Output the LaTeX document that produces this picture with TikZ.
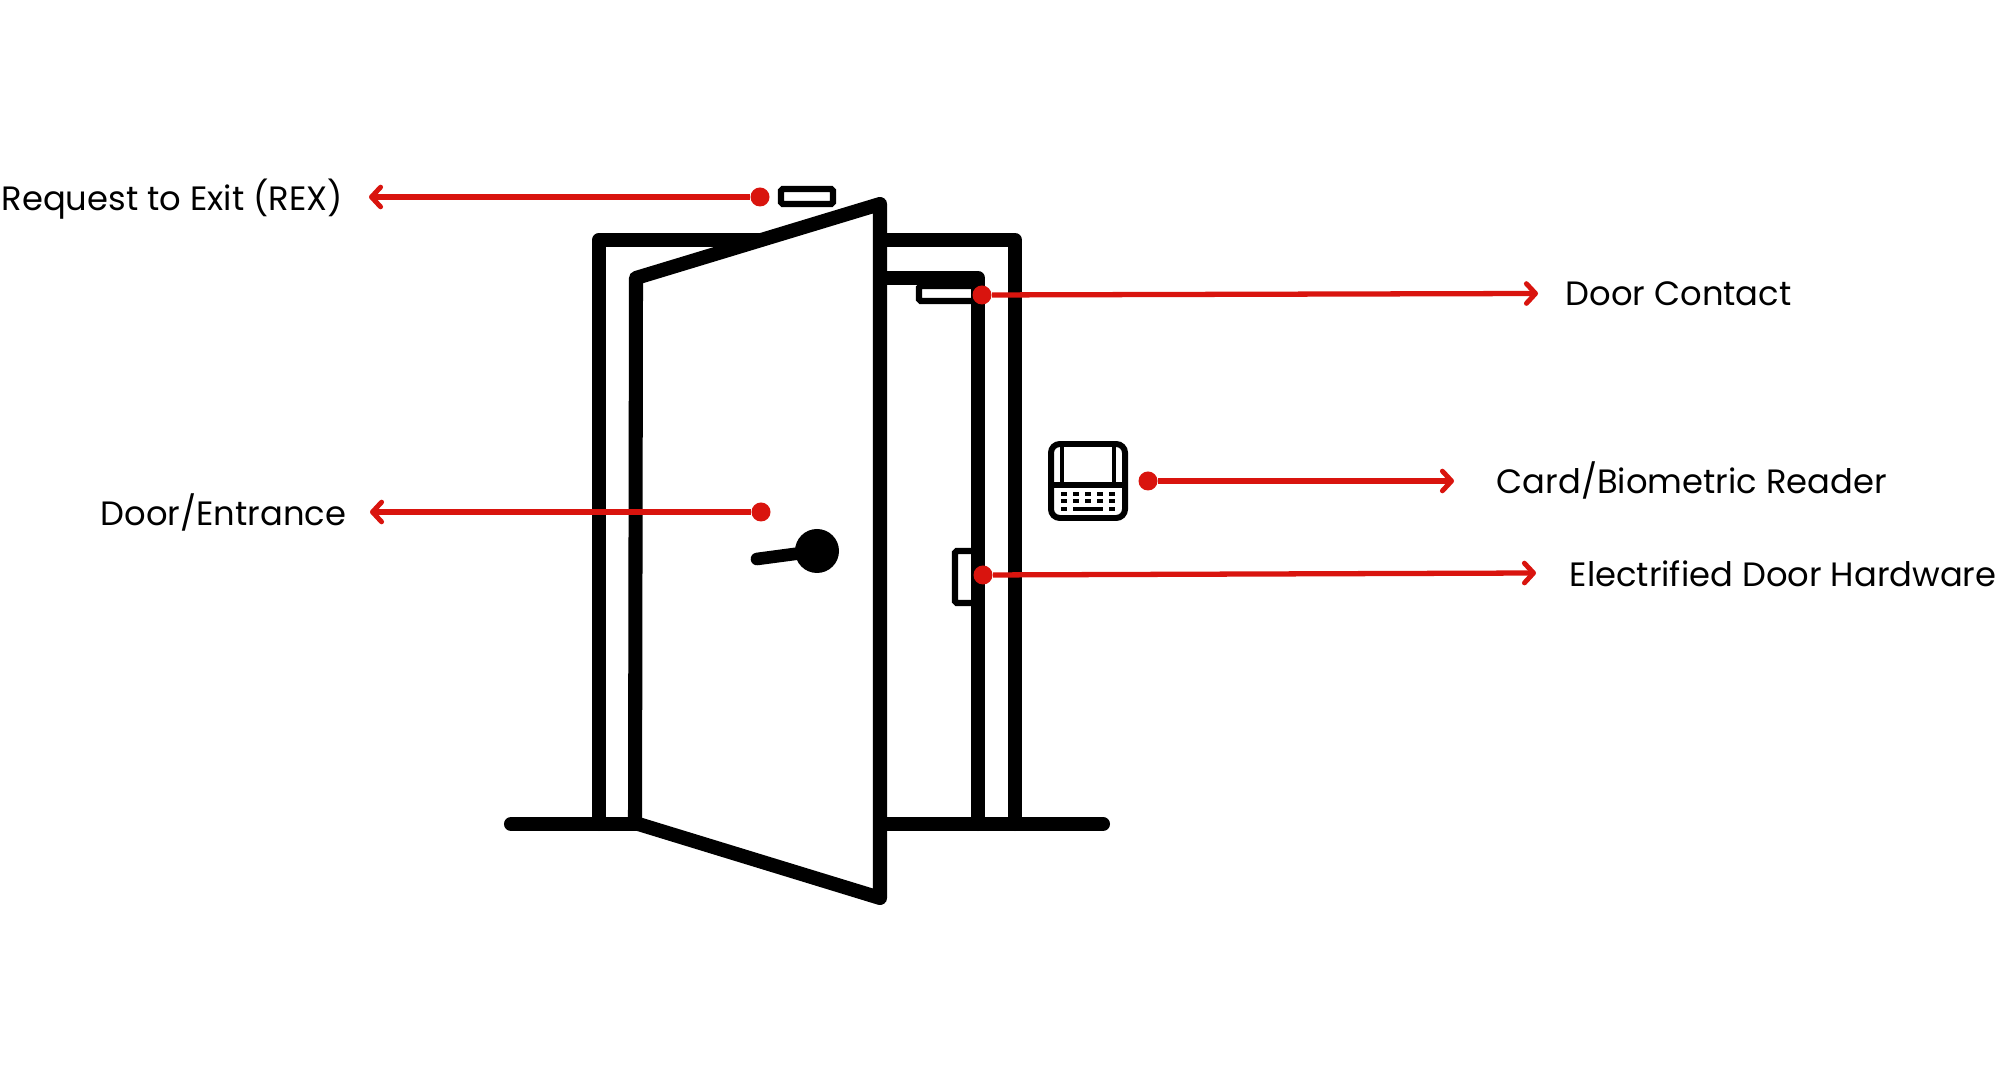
\documentclass[tikz,border=0pt]{standalone}
\usepackage{fontspec}
\setmainfont{Poppins}
\usetikzlibrary{arrows.meta}
\definecolor{callred}{HTML}{D9140E}
\tikzset{
  heavy/.style={color=black,line width=4pt,line join=round,line cap=round},
  thin box/.style={color=black,fill=white,line width=1.8pt,rounded corners=0.5pt},
  reddot/.style={circle,fill=callred,inner sep=0pt,minimum size=0.19cm},
  callout/.style={color=callred,line width=1.5pt,-{Straight Barb[length=2.6pt,width=5.6pt,line width=1.4pt,round]}},
  label text/.style={anchor=west,inner sep=0pt,font=\fontsize{9.6}{12}\selectfont}
}
\begin{document}
\begin{tikzpicture}[x=0.01cm,y=-0.01cm]
\useasboundingbox (0,0) rectangle (2000,1080);
%% frame and floor
\draw [heavy] (511,824) -- (1103,824);
\draw [heavy] (599,824) -- (599,240) -- (1015,240) -- (1015,824);
%% sensors
\draw [thin box] (919,286) rectangle (975,301);
\draw [thin box] (955,551) rectangle (975,603);
\draw [heavy] (880,278) -- (978,278) -- (978,824);
\draw [thin box] (781,189) rectangle (833,204);
%% door
\draw [heavy,fill=white] (636,278) -- (880,204) -- (880,898) -- (635,823) -- cycle;
\draw [heavy,line width=3.6pt] (757,559) -- (817,551);
\fill [black] (817,551) circle (22);
%% reader
\draw [color=black,line width=1.7pt,rounded corners=2.5pt] (1051,444) rectangle (1125,518);
\draw [color=black,line width=1.5pt] (1051,485) -- (1125,485);
\draw [color=black,line width=1.1pt] (1062,444) -- (1062,485);
\draw [color=black,line width=1.1pt] (1114,444) -- (1114,485);
\foreach \kx in {1064,1076,1088,1100,1112} {
  \fill [black] (\kx-3,492.5) rectangle (\kx+3,496);
  \fill [black] (\kx-3,499.5) rectangle (\kx+3,503);
}
\fill [black] (1061,507) rectangle (1067,511);
\fill [black] (1073,507) rectangle (1103,511);
\fill [black] (1109,507) rectangle (1115,511);
%% callouts
\node [reddot] (rexdot) at (760,197) {};
\node [reddot] (doordot) at (761,512) {};
\node [reddot] (contactdot) at (982,295) {};
\node [reddot] (readerdot) at (1148,481) {};
\node [reddot] (hardwaredot) at (983,575) {};
\coordinate (rextip) at (369,197);
\coordinate (doortip) at (370,512);
\coordinate (contacttip) at (1538,293.5);
\coordinate (readertip) at (1454,481);
\coordinate (hardwaretip) at (1536,573);
\draw [callout] (rexdot) -- (rextip);
\draw [callout] (doordot) -- (doortip);
\draw [callout] (contactdot) -- (contacttip);
\draw [callout] (readerdot) -- (readertip);
\draw [callout] (hardwaredot) -- (hardwaretip);
%% labels
\node [label text] (rexlabel) at (1,199) {Request to Exit (REX)};
\node [label text] (doorlabel) at (100,512) {Door/Entrance};
\node [label text] (contactlabel) at (1565,294) {Door Contact};
\node [label text] (readerlabel) at (1496,480) {Card/Biometric Reader};
\node [label text] (hardwarelabel) at (1569,574) {Electrified Door Hardware};
\end{tikzpicture}
\end{document}
